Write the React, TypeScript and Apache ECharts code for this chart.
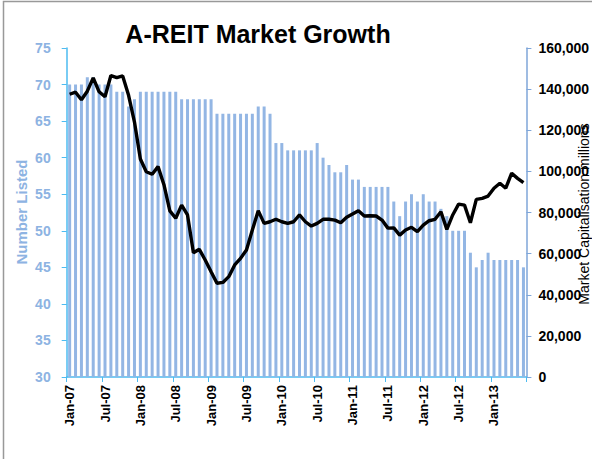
import React, { useEffect, useRef } from "react";
import * as echarts from "echarts";

const MONTH_NAMES = ["Jan", "Feb", "Mar", "Apr", "May", "Jun", "Jul", "Aug", "Sep", "Oct", "Nov", "Dec"];
const FIRST_YEAR = 2007;
const LAST_YEAR = 2013;
const LAST_MONTH_OF_LAST_YEAR = 6; // Jun-13

const categories: string[] = [];
for (let y = FIRST_YEAR; y <= LAST_YEAR; y++) {
  for (let m = 0; m < 12; m++) {
    if (y === LAST_YEAR && m >= LAST_MONTH_OF_LAST_YEAR) break;
    categories.push(`${MONTH_NAMES[m]}-${String(y).slice(2)}`);
  }
}

const numberListed = [
  70, 70, 70, 71, 71, 70, 70, 70, 69, 69, 67, 68,
  69, 69, 69, 69, 69, 69, 69, 68, 68, 68, 68, 68,
  68, 66, 66, 66, 66, 66, 66, 66, 67, 67, 66, 62,
  62, 61, 61, 61, 61, 61, 62, 60, 59, 58, 58, 59,
  57, 57, 56, 56, 56, 56, 56, 54, 52, 54, 55, 54,
  55, 54, 54, 53, 52, 50, 50, 50, 47, 45, 46, 47,
  46, 46, 46, 46, 46, 45,
];

const marketCap = [
  137500, 138500, 134800, 139000, 145500, 138700, 136300, 146600, 145600, 146400, 137000, 124000,
  106000, 99800, 98600, 102300, 93500, 80800, 77200, 83600, 78800, 60400, 62100, 56900,
  51200, 45600, 46000, 48800, 54500, 57700, 61800, 71500, 80900, 74700, 75500, 76700,
  75500, 74700, 75500, 78800, 75500, 73400, 74700, 76700, 76700, 76300, 75000, 77700,
  79300, 80900, 78300, 78400, 78300, 76300, 72400, 72500, 69000, 71500, 72800, 70700,
  73900, 76000, 76700, 80400, 71800, 78800, 84100, 83600, 75000, 86400, 86900, 88000,
  91800, 94200, 91800, 99100, 96600, 94500,
];

const leftTicks = { min: 30, max: 75, interval: 5 };
const rightTicks = { min: 0, max: 160000, interval: 20000 };

const TITLE = "A-REIT Market Growth";
const LEFT_NAME = "Number Listed";
const RIGHT_NAME = "Market Capitalisation millions";

const FONT = "'Liberation Sans', Arial, sans-serif";

export default function App() {
  const ref = useRef<HTMLDivElement>(null);
  useEffect(() => {
    document.body.style.margin = "0";
    if (!ref.current) return;
    const chart = echarts.init(ref.current, undefined, { renderer: "svg" });
    chart.setOption({
      animation: false,
      backgroundColor: "#ffffff",
      grid: { left: 66.7, right: 62, top: 48, bottom: 82, containLabel: false },
      xAxis: {
        type: "category",
        data: categories,
        boundaryGap: true,
        axisLine: { lineStyle: { color: "#4dbbf0", width: 1.5 } },
        axisTick: { show: true, interval: 5, length: 5, lineStyle: { color: "#4dbbf0" } },
        axisLabel: {
          interval: 5,
          rotate: 90,
          margin: 8,
          color: "#000",
          fontWeight: "bold",
          fontSize: 13,
          fontFamily: FONT,
        },
        splitLine: { show: false },
      },
      yAxis: [
        {
          type: "value",
          position: "left",
          min: leftTicks.min,
          max: leftTicks.max,
          interval: leftTicks.interval,
          axisLine: { show: true, lineStyle: { color: "#4dbbf0", width: 1.5 } },
          axisTick: { show: true, length: 5, lineStyle: { color: "#4dbbf0" } },
          axisLabel: { color: "#8db3e2", fontWeight: "bold", fontSize: 14, fontFamily: FONT, margin: 16 },
          splitLine: { show: false },
        },
        {
          type: "value",
          position: "right",
          min: rightTicks.min,
          max: rightTicks.max,
          interval: rightTicks.interval,
          axisLine: { show: true, lineStyle: { color: "#7fa6d9", width: 1.5 } },
          axisTick: { show: true, length: 5, lineStyle: { color: "#7fa6d9" } },
          axisLabel: {
            color: "#000",
            fontWeight: "bold",
            fontSize: 14,
            fontFamily: FONT,
            margin: 12,
            formatter: (v: number) => v.toLocaleString("en-US"),
          },
          splitLine: { show: false },
        },
      ],
      series: [
        {
          type: "bar",
          name: LEFT_NAME,
          data: numberListed,
          yAxisIndex: 0,
          barWidth: 3,
          itemStyle: { color: "#93b6e4" },
        },
        {
          type: "line",
          name: RIGHT_NAME,
          data: marketCap,
          yAxisIndex: 1,
          showSymbol: false,
          symbol: "none",
          lineStyle: { color: "#000", width: 3.4 },
          z: 5,
        },
      ],
      graphic: [
        {
          type: "rect",
          shape: { x: 3.5, y: 1.5, width: 620, height: 500 },
          style: { fill: "none", stroke: "#999", lineWidth: 1.5 },
          silent: true,
          z: -1,
        },
        {
          type: "text",
          x: 258,
          y: 34,
          style: {
            text: TITLE,
            font: `bold 25px ${FONT}`,
            fill: "#000",
            textAlign: "center",
            textVerticalAlign: "middle",
          },
        },
        {
          type: "text",
          x: 21,
          y: 212,
          rotation: Math.PI / 2,
          style: {
            text: LEFT_NAME,
            font: `bold 15px ${FONT}`,
            fill: "#8db3e2",
            textAlign: "center",
            textVerticalAlign: "middle",
          },
        },
        {
          type: "text",
          x: 584,
          y: 214,
          rotation: Math.PI / 2,
          style: {
            text: RIGHT_NAME,
            font: `14px ${FONT}`,
            fill: "#000",
            textAlign: "center",
            textVerticalAlign: "middle",
          },
        },
      ],
    });
    return () => chart.dispose();
  }, []);
  return <div ref={ref} style={{ width: 592, height: 459 }} />;
}
